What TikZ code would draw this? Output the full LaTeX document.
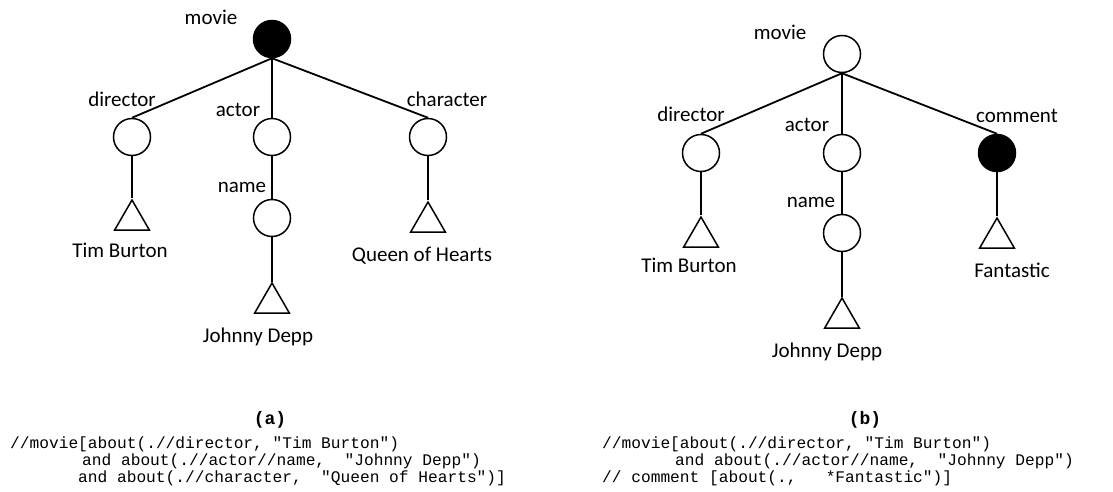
\documentclass[tikz,border=0pt]{standalone}
\usepackage{fontspec}
\setmainfont{Carlito}
\setmonofont{Liberation Mono}
\usetikzlibrary{shapes.geometric}
\tikzset{
  vtx/.style={circle,draw,line width=1.5pt,minimum size=37pt,inner sep=0pt,fill=white},
  vtxfill/.style={vtx,fill=black},
  leaf/.style={regular polygon,regular polygon sides=3,draw,line width=1.5pt,minimum size=40pt,inner sep=0pt},
  conn/.style={line width=1.8pt},
  lbl/.style={font=\fontsize{21}{25}\selectfont,inner sep=0pt},
  qcode/.style={font=\ttfamily\fontsize{16.2}{18}\selectfont,inner sep=0pt,anchor=base west},
  captxt/.style={font=\ttfamily\bfseries\fontsize{18}{20}\selectfont,inner sep=0pt}
}
\begin{document}
\begin{tikzpicture}[x=1pt,y=-1pt]
\useasboundingbox (0,0) rectangle (1113,492);
% ---- panel (a)
\node[vtxfill] (am) at (272,39) {};
\node[vtx] (ad) at (132,137) {};
\node[vtx] (aa) at (272,137) {};
\node[vtx] (ac) at (428,137) {};
\node[vtx] (an) at (272,218) {};
\node[leaf] (adt) at (132,220) {};
\node[leaf] (ant) at (272,303) {};
\node[leaf] (act) at (428,222) {};
\draw[conn] (am.south) -- (ad.north);
\draw[conn] (am.south) -- (aa.north);
\draw[conn] (am.south) -- (ac.north);
\draw[conn] (ad.south) -- (adt.north);
\draw[conn] (aa.south) -- (an.north);
\draw[conn] (an.south) -- (ant.north);
\draw[conn] (ac.south) -- (act.north);
\node[lbl] (aml) at (211,17) {movie};
\node[lbl] (adl) at (122,99) {director};
\node[lbl] (aal) at (238,110) {actor};
\node[lbl] (acl) at (447,99) {character};
\node[lbl] (anl) at (242,187) {name};
\node[lbl] (adv) at (120,250) {Tim Burton};
\node[lbl] (anv) at (258,337) {Johnny Depp};
\node[lbl] (acv) at (422,256) {Queen of Hearts};
% ---- panel (b)
\node[vtx] (bm) at (842,54) {};
\node[vtx] (bd) at (701,153) {};
\node[vtx] (ba) at (842,153) {};
\node[vtxfill] (bc) at (997,153) {};
\node[vtx] (bn) at (842,233) {};
\node[leaf] (bdt) at (701,237) {};
\node[leaf] (bnt) at (842,318) {};
\node[leaf] (bct) at (997,238) {};
\draw[conn] (bm.south) -- (bd.north);
\draw[conn] (bm.south) -- (ba.north);
\draw[conn] (bm.south) -- (bc.north);
\draw[conn] (bd.south) -- (bdt.north);
\draw[conn] (ba.south) -- (bn.north);
\draw[conn] (bn.south) -- (bnt.north);
\draw[conn] (bc.south) -- (bct.north);
\node[lbl] (bml) at (780,32) {movie};
\node[lbl] (bdl) at (691,114) {director};
\node[lbl] (bal) at (807,125) {actor};
\node[lbl] (bcl) at (1017,116) {comment};
\node[lbl] (bnl) at (811,202) {name};
\node[lbl] (bdv) at (689,265) {Tim Burton};
\node[lbl] (bnv) at (827,352) {Johnny Depp};
\node[lbl] (bcv) at (1012,270) {Fantastic};
% ---- captions and queries
\node[captxt] (capa) at (270,420) {(a)};
\node[captxt] (capb) at (865,420) {(b)};
\node[qcode] (qa1) at (10,448) {//movie[about(.//director,\ "Tim Burton")};
\node[qcode] (qa2) at (82,465) {and about(.//actor//name,\ \ "Johnny Depp")};
\node[qcode] (qa3) at (78,482) {and about(.//character,\ \ "Queen of Hearts")]};
\node[qcode] (qb1) at (602,448) {//movie[about(.//director,\ "Tim Burton")};
\node[qcode] (qb2) at (675,465) {and about(.//actor//name,\ \ "Johnny Depp")};
\node[qcode] (qb3) at (602,482) {//\ comment\ [about(.,\ \ \ *Fantastic")]};
\end{tikzpicture}
\end{document}
